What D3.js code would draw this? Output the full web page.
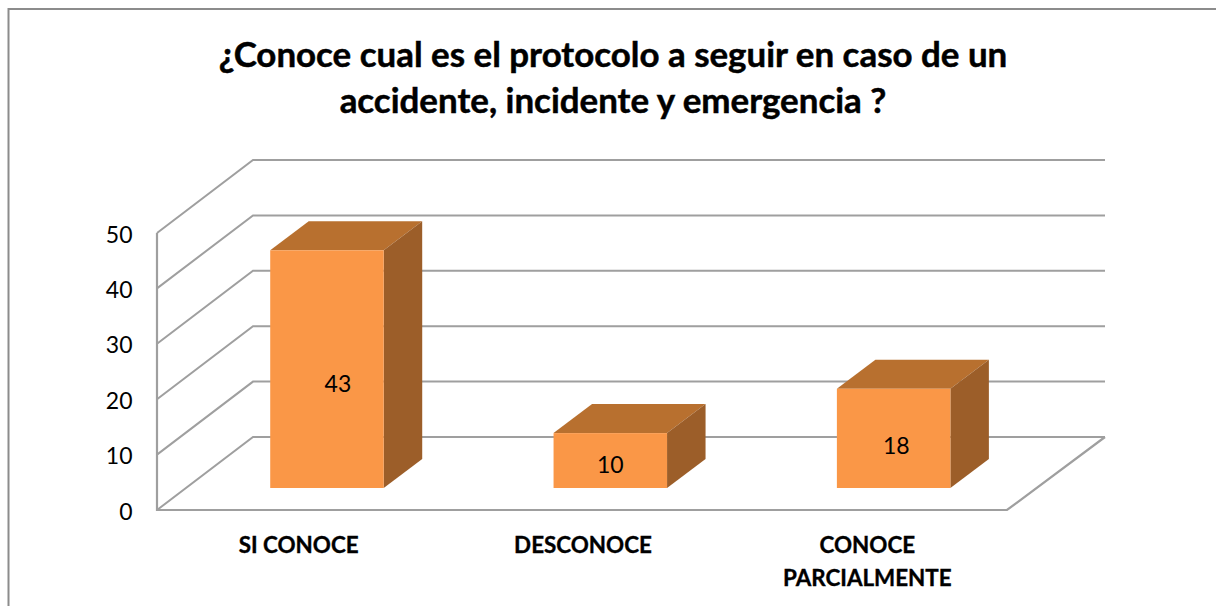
<!DOCTYPE html>
<html><head><meta charset="utf-8">
<script src="https://cdn.jsdelivr.net/npm/d3@7/dist/d3.min.js"></script>
<style>html,body{margin:0;padding:0;background:#fff}svg{display:block}text{font-family:Lato,"Noto Sans",sans-serif;fill:#000}</style>
</head><body><svg id="c" width="1216" height="606"></svg>
<script>
const categories = ["SI CONOCE", "DESCONOCE", "CONOCE PARCIALMENTE"];
const categoryLines = [["SI CONOCE"], ["DESCONOCE"], ["CONOCE", "PARCIALMENTE"]];
const values = [43, 10, 18];
const ticks = [0, 10, 20, 30, 40, 50];
const titleLines = ["¿Conoce cual es el protocolo a seguir en caso de un", "accidente, incidente y emergencia ?"];

const svg = d3.select("#c");
const y = d3.scaleLinear().domain([0, 50]).range([510, 233]);
const x = d3.scaleBand().domain(categories).range([157, 1007]);
const depthX = 96, depthY = -73;
const barW = 113.5;
const barDX = 38.5, barDY = -29, barBase = -22;
const grid = "#9f9f9f";

svg.append("path").attr("d", "M1216,9H8.5V606").attr("fill", "none").attr("stroke", "#8c8c8c").attr("stroke-width", 2);

svg.selectAll(".g").data(ticks).join("path").attr("class", "g")
  .attr("d", d => `M157,${y(d)}L${157 + depthX},${y(d) + depthY}H1105`)
  .attr("fill", "none").attr("stroke", grid).attr("stroke-width", 2);
svg.append("path").attr("d", `M157,${y(50)}V${y(0)}H1007L1105,${y(0) + depthY}`)
  .attr("fill", "none").attr("stroke", grid).attr("stroke-width", 2.2);

const bars = svg.selectAll(".b").data(values).join("g").attr("class", "b");
const bx = (d, i) => x(categories[i]) + (x.bandwidth() - barW) / 2 + 28.3;
const barH = d => y(0) - y(d);
const barTop = d => y(d) + barBase + 0.5;
const base = y(0) + barBase;
bars.append("path").attr("fill", "#b8702f")
  .attr("d", (d, i) => `M${bx(d, i)},${barTop(d)}l${barDX},${barDY}h${barW}l${-barDX},${-barDY}Z`);
bars.append("path").attr("fill", "#9c5e29")
  .attr("d", (d, i) => `M${bx(d, i) + barW},${barTop(d)}l${barDX},${barDY}V${base + barDY}L${bx(d, i) + barW},${base}Z`);
bars.append("rect").attr("fill", "#fa9747")
  .attr("x", bx).attr("y", barTop).attr("width", barW).attr("height", d => base - barTop(d));
bars.append("text").attr("font-size", 23).attr("text-anchor", "middle")
  .attr("x", (d, i) => bx(d, i) + barW / 2 + 0.06 * (barH(d) - 55))
  .attr("y", d => barTop(d) + barH(d) / 2 + 0.0574 * barH(d) + 9.3)
  .text(d => d);

svg.selectAll(".t").data(ticks).join("text").attr("class", "t")
  .attr("x", 132.5).attr("y", d => y(d) + 9.5).attr("font-size", 23).attr("text-anchor", "end").text(d => d);

categoryLines.forEach((ls, i) => {
  ls.forEach((l, j) => svg.append("text")
    .attr("x", x(categories[i]) + x.bandwidth() / 2 + [0, 1, 2][i])
    .attr("y", 553 + j * 33).attr("font-size", 22.4).attr("font-weight", 700)
    .attr("stroke", "#000").attr("stroke-width", 0.35).attr("text-anchor", "middle").text(l));
});

titleLines.forEach((l, j) => svg.append("text").attr("x", 613).attr("y", 67 + j * 46)
  .attr("font-size", 34.9).attr("font-weight", 700)
  .attr("stroke", "#000").attr("stroke-width", 0.5).attr("text-anchor", "middle").text(l));
</script></body></html>
